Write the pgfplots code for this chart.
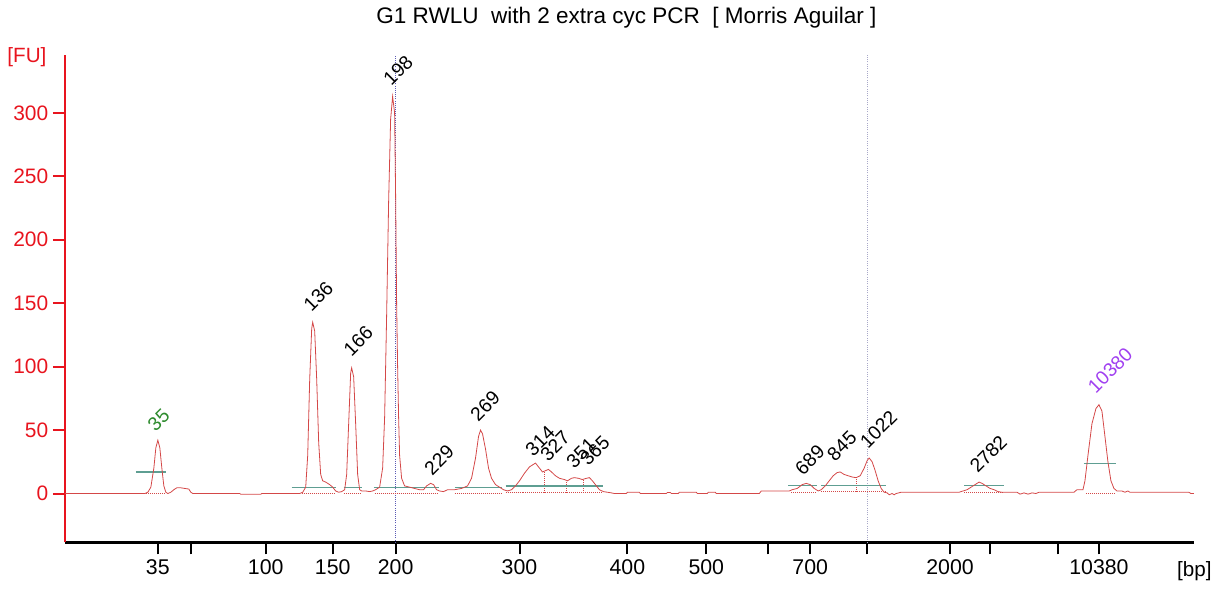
\documentclass[border=0pt]{standalone}
\usepackage{fontspec}
\setmainfont{Liberation Sans}
\usepackage{pgfplots}
\pgfplotsset{compat=1.18}
\definecolor{trace}{HTML}{D44848}
\definecolor{axred}{HTML}{E8141E}
\definecolor{base}{HTML}{5E9E92}
\definecolor{lblgreen}{HTML}{2E8B2E}
\definecolor{lblpurple}{HTML}{A040F0}
\definecolor{vblue}{HTML}{5A5AB4}
\definecolor{vgray}{HTML}{A8A8C8}
\newcommand{\lbl}{\fontsize{14.5}{17}\selectfont}
\begin{document}
\begin{tikzpicture}
\begin{axis}[
 name=ax, at={(0,0)}, anchor=south west,
 scale only axis, width=847.5pt, height=366pt,
 xmin=65, xmax=1195, ymin=-38.6, ymax=345.7,
 axis x line*=bottom, axis y line*=left,
 axis line style={-},
 x axis line style={black, line width=1.8pt},
 y axis line style={axred, line width=1.5pt},
 xtick={158,191,266,333,396,520,628,707,769,811,868,951,991,1059,1100},
 xticklabels={35,,100,150,200,300,400,500,,700,,2000,,,10380},
 ytick={0,50,...,300},
 tick align=outside,
 major tick length=9pt,
 xtick style={black, line width=1.5pt},
 ytick style={axred, line width=1.5pt},
 yticklabel style={axred, font=\fontsize{15.7}{19}\selectfont},
 xticklabel style={black, font=\fontsize{16}{19}\selectfont},
 /pgf/number format/assume math mode=true,
 clip=false,
]
% vertical dotted markers
\addplot[vblue, densely dotted, line width=0.6pt] coordinates {(396,-38.6) (396,345.7)};
\addplot[vgray, densely dotted, line width=0.7pt] coordinates {(868,-38.6) (868,345.7)};
% baselines (red dotted)
\addplot[trace, densely dotted, line width=0.5pt] coordinates {(146,0) (166,0)};
\addplot[trace, densely dotted, line width=0.5pt] coordinates {(302,0) (336,0)};
\addplot[trace, densely dotted, line width=0.5pt] coordinates {(344,0) (362,0)};
\addplot[trace, densely dotted, line width=0.5pt] coordinates {(375,0) (439,0)};
\addplot[trace, densely dotted, line width=0.5pt] coordinates {(455,0) (502,0)};
\addplot[trace, densely dotted, line width=0.5pt] coordinates {(506,1) (604,1)};
\addplot[trace, densely dotted, line width=0.5pt] coordinates {(792,1.3) (818,1.3)};
\addplot[trace, densely dotted, line width=0.5pt] coordinates {(822,1.5) (887,1.5)};
\addplot[trace, densely dotted, line width=0.5pt] coordinates {(965,1.3) (1005,1.3)};
\addplot[trace, densely dotted, line width=0.5pt] coordinates {(1087,0) (1117,0)};
\addplot[trace, densely dotted, line width=0.5pt] coordinates {(545,1) (545,18)};
\addplot[trace, densely dotted, line width=0.5pt] coordinates {(567,1) (567,10)};
\addplot[trace, densely dotted, line width=0.5pt] coordinates {(584,1) (584,12)};
\addplot[trace, densely dotted, line width=0.5pt] coordinates {(857,1.5) (857,12.5)};
% peak window lines
\addplot[base, line width=1pt] coordinates {(136,17) (166,17)};
\addplot[base, line width=1pt] coordinates {(292,4.5) (336,4.5)};
\addplot[base, line width=1pt] coordinates {(344,4.5) (362,4.5)};
\addplot[base, line width=1pt] coordinates {(374,4.5) (439,4.5)};
\addplot[base, line width=1pt] coordinates {(455,4.5) (502,4.5)};
\addplot[base, line width=1pt] coordinates {(506,6) (604,6)};
\addplot[base, line width=1pt] coordinates {(789,6.5) (818,6.5)};
\addplot[base, line width=1pt] coordinates {(822,6.5) (887,6.5)};
\addplot[base, line width=1pt] coordinates {(965,6.5) (1005,6.5)};
\addplot[base, line width=1pt] coordinates {(1085,23.6) (1117,23.6)};
% trace
\addplot[trace, line width=0.6pt] coordinates {
(65,0) (145,0) (148,1) (151,5) (154,20) (156,36) (158,42) (160,36) (162,20) (164,6) (166,1) (168,0)
(171,1) (174,3) (177,4.5) (181,4.5) (185,4) (189,3.5) (191,1) (193,0) (240,0) (241,-0.6) (261,-0.6) (262,0)
(300,0) (303,1) (306,5) (308,30) (310,90) (312,130) (313,135) (315,128) (317,90) (319,40) (321,15) (323,10)
(326,9) (330,7) (333,5) (336,2) (339,1) (342,1.5) (345,3) (347,15) (349,55) (351,95) (352,99) (354,92)
(356,55) (358,15) (360,3) (362,2) (366,2) (370,1.5) (373,2) (376,3) (380,5) (383,20) (385,60) (387,140)
(389,230) (391,295) (393,313) (395,300) (396,235) (397,150) (398,100) (399,60) (400,30) (402,12) (405,6)
(410,5) (415,4) (420,3) (424,3) (427,6) (431,8) (434,7) (437,3) (440,2) (444,1.5) (448,3) (455,3) (462,4)
(468,6) (472,12) (476,28) (479,45) (481,50) (483,47) (486,35) (489,20) (492,12) (496,7) (500,5) (504,3)
(508,2) (512,3) (516,6) (520,10) (525,16) (530,21) (536,24) (540,20) (543,17) (546,18) (549,19) (552,17)
(556,14) (560,12) (565,11) (568,10) (572,12) (575,12.5) (579,12) (583,11) (587,12) (590,12.5) (593,10)
(597,6) (600,3) (604,1.5) (608,1) (612,0.5) (615,0) (627,0) (628,1) (640,1) (641,0) (667,0) (668,0.8)
(671,0.8) (672,0) (679,0) (680,1) (697,1) (698,0) (708,0) (709,1) (716,1) (717,0) (760,0) (762,2) (790,2)
(793,3) (798,4) (803,7) (807,8) (811,7) (815,4) (819,2) (822,3) (826,6) (830,10) (834,14) (838,16.5)
(841,17) (845,15) (849,14) (853,13) (857,12.5) (861,14) (865,20) (868,26) (870,28) (873,25) (876,18)
(879,10) (882,4) (885,1) (888,0.5) (890,-1) (893,0) (895,-1) (897,0) (902,1) (960,1) (964,2) (968,3)
(972,5) (976,7) (980,9) (983,8) (987,6) (991,4) (995,3) (999,1.5) (1003,1) (1018,1) (1021,-0.5) (1025,0.5)
(1029,-0.5) (1033,0.5) (1037,0) (1040,1) (1075,1) (1078,3) (1084,3) (1086,10) (1089,30) (1093,55) (1097,67)
(1100,70) (1103,65) (1106,45) (1109,25) (1112,10) (1115,4) (1118,2) (1123,2) (1126,1) (1129,2) (1131,1)
(1190,1) (1192,0) (1195,0)
};
% peak labels
\begin{scope}[every node/.style={rotate=45, anchor=south west, inner sep=0pt, font=\lbl}]
\node[text=lblgreen] at (axis cs:156,48.0) {35};
\node at (axis cs:312,142.5) {136};
\node at (axis cs:352,107.1) {166};
\node at (axis cs:392,320.5) {198};
\node at (axis cs:433,13.4) {229};
\node at (axis cs:479,55.9) {269};
\node at (axis cs:534,28.3) {314};
\node at (axis cs:549,24.4) {327};
\node at (axis cs:575,18.9) {351};
\node at (axis cs:589,20.5) {365};
\node at (axis cs:804,13.4) {689};
\node at (axis cs:836,24.4) {845};
\node at (axis cs:869,34.6) {1022};
\node at (axis cs:979,15.0) {2782};
\node[text=lblpurple] at (axis cs:1097,78.0) {10380};
\end{scope}
% titles
\node[font=\fontsize{16.9}{19}\selectfont, anchor=center] at (axis cs:627,374.8) {G1 RWLU\ \ with 2 extra cyc PCR\ \ [ Morris Aguilar ]};
\node[font=\fontsize{15.5}{18}\selectfont, text=axred, anchor=center] at (axis cs:27,344.1) {[FU]};
\node[font=\fontsize{15.5}{18}\selectfont, anchor=center] at (axis cs:1195.5,-61.4) {[bp]};
\end{axis}
\path[use as bounding box] ([shift={(-48.75pt,-35.25pt)}]ax.south west) rectangle ++(912pt,442.5pt);
\end{tikzpicture}
\end{document}
